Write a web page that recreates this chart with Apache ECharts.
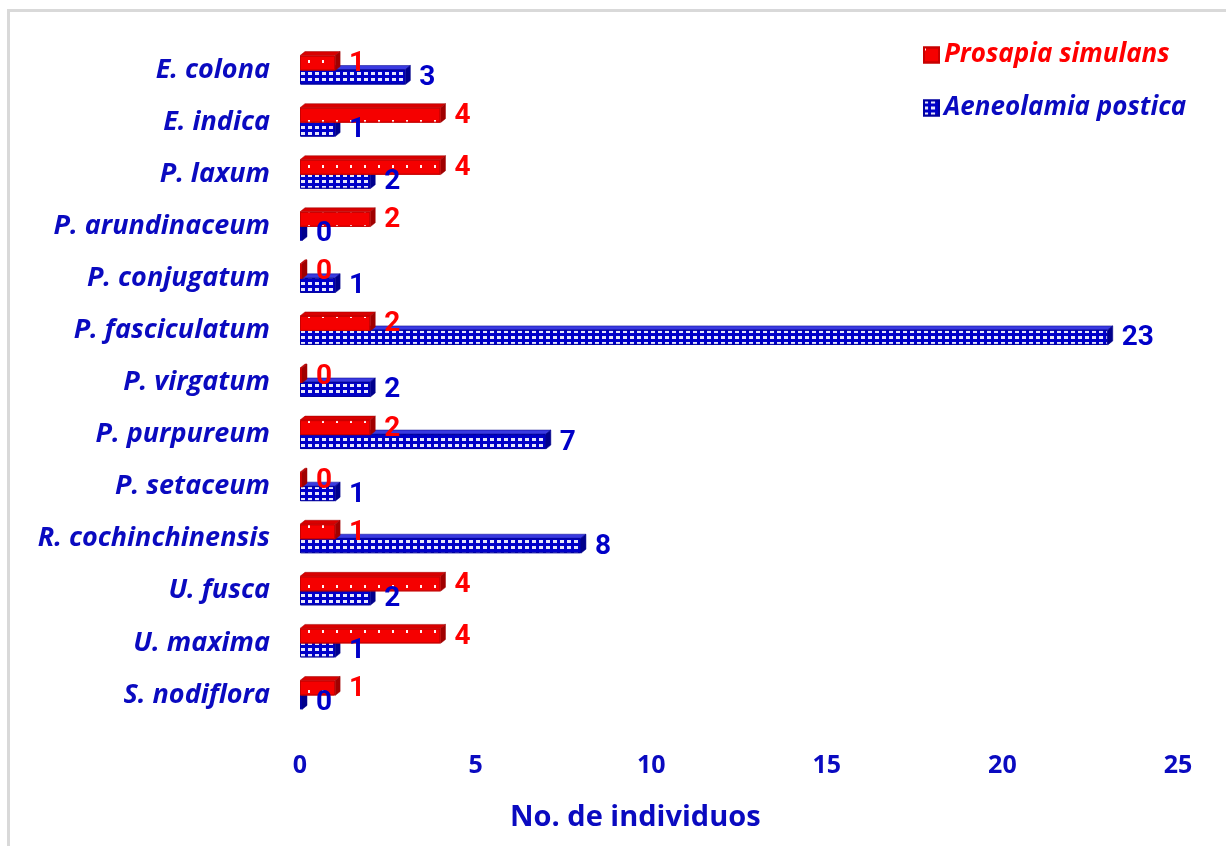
<!DOCTYPE html>
<html>
<head>
<meta charset="utf-8">
<script src="https://cdn.jsdelivr.net/npm/echarts@6/dist/echarts.min.js"></script>
<style>
html, body { margin: 0; padding: 0; background: #fff; overflow: hidden; }
#chart { width: 1226px; height: 846px; }
.frame {
    position: absolute; left: 7px; top: 9px; width: 1240px; height: 860px;
    border: 3px solid #d9d9d9; pointer-events: none;
}
</style>
</head>
<body>
<div id="chart"></div>
<div class="frame"></div>
<script>
// datos
var especies = ['E. colona', 'E. indica', 'P. laxum', 'P. arundinaceum', 'P. conjugatum', 'P. fasciculatum',
    'P. virgatum', 'P. purpureum', 'P. setaceum', 'R. cochinchinensis', 'U. fusca', 'U. maxima', 'S. nodiflora'];
var prosapia = [1, 4, 4, 2, 0, 2, 0, 2, 0, 1, 4, 4, 1];
var aeneolamia = [3, 1, 2, 0, 1, 23, 2, 7, 1, 8, 2, 1, 0];
var xTicks = [0, 5, 10, 15, 20, 25];

var ROJO = '#ff0000';
var AZUL = '#0000c8';
var BAR_W = 15;
var DX = 5, DY = 4;

var fuenteNum = "'Liberation Sans Narrow', 'Roboto', sans-serif";
var fuente = "'Open Sans'";

var half = (BAR_W * 2 - BAR_W * 0.07) / 2;
var offRojo = -half + BAR_W / 2;
var offAzul = half - BAR_W / 2;

// caras 3D (arriba y derecha) de cada barra
function caras(offset, colTop, colSide) {
    return function (params, api) {
        var p0 = api.coord([0, api.value(1)]);
        var p1 = api.coord([api.value(0), api.value(1)]);
        var x0 = p0[0];
        var x1 = Math.max(p1[0], x0 + 2);
        var yc = p0[1] + offset;
        var yt = yc - BAR_W / 2, yb = yc + BAR_W / 2;
        return {
            type: 'group',
            children: [
                { type: 'polygon', shape: { points: [[x0, yt], [x1, yt], [x1 + DX, yt - DY], [x0 + DX, yt - DY]] },
                  style: { fill: colTop, stroke: colSide, lineWidth: 0.5 } },
                { type: 'polygon', shape: { points: [[x1, yt], [x1 + DX, yt - DY], [x1 + DX, yb - DY], [x1, yb]] },
                  style: { fill: colSide, stroke: colSide, lineWidth: 0.5 } }
            ]
        };
    };
}

// etiquetas de valor (encima de todas las barras)
function etiquetas(offset, color) {
    return function (params, api) {
        var p0 = api.coord([0, api.value(1)]);
        var p1 = api.coord([api.value(0), api.value(1)]);
        var x1 = Math.max(p1[0], p0[0] + 2);
        return {
            type: 'text',
            x: x1 + 14, y: p0[1] + offset + 1,
            style: { text: String(api.value(0)), fill: color, font: 'bold 28px ' + fuenteNum, verticalAlign: 'middle' }
        };
    };
}

var chartDom = document.getElementById('chart');
var myChart = echarts.init(chartDom);

myChart.setOption({
    animation: false,
    aria: { enabled: true, decal: { show: true } },
    grid: { left: 300, right: 48, top: 44, bottom: 125, containLabel: false },
    legend: {
        orient: 'vertical',
        left: 918, top: 37,
        itemGap: 27,
        itemWidth: 15, itemHeight: 15,
        icon: 'rect',
        data: [
            { name: 'Prosapia simulans', textStyle: { color: ROJO } },
            { name: 'Aeneolamia postica', textStyle: { color: '#0a0ac0' } }
        ],
        textStyle: { fontFamily: fuente, fontSize: 26, fontWeight: 'bold', fontStyle: 'italic' }
    },
    xAxis: {
        type: 'value', min: 0, max: 25, interval: 5,
        splitLine: { show: false }, axisLine: { show: false }, axisTick: { show: false },
        axisLabel: {
            margin: 32, fontFamily: fuente, fontSize: 25, fontWeight: 'bold', color: '#0a0ac0',
            formatter: function (v) { return xTicks.indexOf(v) >= 0 ? String(v) : ''; }
        }
    },
    yAxis: {
        type: 'category', inverse: true, data: especies,
        axisLine: { show: false }, axisTick: { show: false },
        axisLabel: { margin: 30, fontFamily: fuente, fontSize: 27, fontWeight: 'bold', fontStyle: 'italic', color: '#0a0ac0', padding: [10, 0, 0, 0] }
    },
    graphic: [{
        type: 'text', left: 510, top: 803,
        style: { text: 'No. de individuos', font: "bold 29px 'Open Sans'", fill: '#0a0ac0' }
    }],
    series: [
        {
            name: 'Prosapia simulans', type: 'bar', data: prosapia, z: 4,
            barWidth: BAR_W, barGap: '-7%', barMinHeight: 2,
            itemStyle: {
                color: '#f50000', borderColor: '#c80000', borderWidth: 1,
                decal: { symbol: 'rect', color: 'rgba(255,255,255,0.95)', dashArrayX: [2, 12], dashArrayY: [3, 12], symbolSize: 1, rotation: 0 }
            }
        },
        {
            name: 'Aeneolamia postica', type: 'bar', data: aeneolamia, z: 2,
            barWidth: BAR_W, barGap: '-7%', barMinHeight: 2,
            itemStyle: {
                color: AZUL, borderColor: '#0000a0', borderWidth: 1,
                decal: { symbol: 'rect', color: 'rgba(255,255,255,0.9)', dashArrayX: [4, 3], dashArrayY: [3, 3], symbolSize: 1, rotation: 0 }
            }
        },
        {
            type: 'custom', z: 1, silent: true,
            data: aeneolamia.map(function (v, i) { return [v, i]; }),
            encode: { x: 0, y: 1 },
            renderItem: caras(offAzul, '#3a3ae0', '#00008c')
        },
        {
            type: 'custom', z: 3, silent: true,
            data: prosapia.map(function (v, i) { return [v, i]; }),
            encode: { x: 0, y: 1 },
            renderItem: caras(offRojo, '#d80000', '#a00000')
        },
        {
            type: 'custom', z: 10, silent: true,
            data: aeneolamia.map(function (v, i) { return [v, i]; }),
            encode: { x: 0, y: 1 },
            renderItem: etiquetas(offAzul, AZUL)
        },
        {
            type: 'custom', z: 11, silent: true,
            data: prosapia.map(function (v, i) { return [v, i]; }),
            encode: { x: 0, y: 1 },
            renderItem: etiquetas(offRojo, ROJO)
        }
    ]
});
</script>
</body>
</html>
